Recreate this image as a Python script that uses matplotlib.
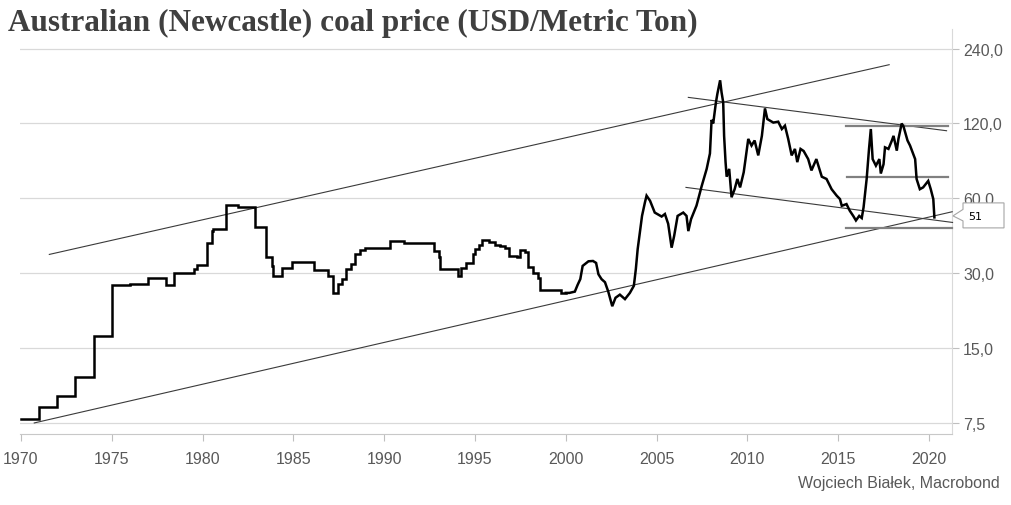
import matplotlib
matplotlib.use("Agg")
import matplotlib.pyplot as plt
import matplotlib.patches as mpatches
from matplotlib.ticker import FixedLocator, NullLocator

# ---------------- data ----------------
# early period: step levels (start year, price USD/t)
step_years = [1970.0, 1971.0, 1972.0, 1973.0, 1974.0, 1975.0, 1976.0, 1977.0, 1978.0, 1978.4,
              1979.5, 1979.7, 1980.25, 1980.5, 1980.6, 1981.27, 1981.97, 1982.9, 1983.5, 1983.85,
              1983.9, 1984.4, 1984.9, 1986.13, 1986.9, 1987.2, 1987.44, 1987.7, 1987.9, 1988.17,
              1988.4, 1988.67, 1988.94, 1990.3, 1991.1, 1992.76, 1993.0, 1993.05, 1994.08, 1994.25,
              1994.5, 1994.87, 1995.0, 1995.2, 1995.4, 1995.8, 1996.1, 1996.4, 1996.65, 1996.9,
              1997.3, 1997.5, 1997.75, 1997.9, 1998.2, 1998.45, 1998.6, 1999.75, 2000.0]
step_prices = [7.8, 8.7, 9.6, 11.5, 16.8, 26.9, 27.1, 28.7, 27.0, 30.0,
               31.2, 32.4, 39.5, 44.3, 45.2, 56.4, 55.6, 46.2, 34.7, 32.0,
               29.2, 31.6, 33.4, 31.0, 29.3, 24.9, 27.1, 28.4, 31.1, 32.8,
               35.8, 37.2, 38.0, 40.5, 39.6, 37.0, 34.7, 31.1, 29.3, 31.6,
               33.1, 35.9, 37.5, 39.1, 40.7, 40.0, 39.1, 38.5, 38.0, 35.3,
               34.7, 37.2, 36.5, 31.8, 30.0, 28.8, 25.8, 25.0, 25.0]

# later period: weekly-ish readings
wk_years = [2000.0, 2000.2, 2000.5, 2000.65, 2000.8, 2000.93, 2001.25, 2001.5, 2001.67, 2001.8,
            2001.97, 2002.16, 2002.34, 2002.56, 2002.74, 2002.98, 2003.26, 2003.53, 2003.75, 2003.86,
            2003.96, 2004.08, 2004.2, 2004.36, 2004.45, 2004.64, 2004.9, 2005.28, 2005.46, 2005.64,
            2005.83, 2005.97, 2006.16, 2006.47, 2006.65, 2006.75, 2006.9, 2007.2, 2007.48, 2007.76,
            2007.94, 2008.03, 2008.12, 2008.27, 2008.35, 2008.5, 2008.58, 2008.67, 2008.72, 2008.8,
            2008.86, 2009.0, 2009.13, 2009.3, 2009.45, 2009.6, 2009.8, 2009.9, 2010.05, 2010.23,
            2010.4, 2010.6, 2010.8, 2010.97, 2011.1, 2011.43, 2011.7, 2011.9, 2012.07, 2012.25,
            2012.44, 2012.62, 2012.75, 2012.93, 2013.1, 2013.35, 2013.53, 2013.8, 2014.1, 2014.36,
            2014.64, 2014.92, 2015.1, 2015.2, 2015.46, 2015.64, 2015.83, 2015.98, 2016.16, 2016.3,
            2016.4, 2016.57, 2016.7, 2016.8, 2016.9, 2017.08, 2017.27, 2017.35, 2017.5, 2017.58,
            2017.77, 2017.96, 2018.05, 2018.23, 2018.32, 2018.5, 2018.6, 2018.82, 2018.96, 2019.24,
            2019.32, 2019.5, 2019.68, 2019.96, 2020.1, 2020.24, 2020.3]
wk_prices = [25.0, 25.0, 25.3, 26.9, 28.4, 32.1, 33.5, 33.6, 33.0, 29.7,
             28.4, 27.6, 25.3, 22.1, 23.9, 24.6, 23.6, 25.0, 26.7, 31.2,
             37.5, 43.7, 51.0, 57.8, 61.5, 58.7, 52.6, 50.7, 51.9, 47.4,
             38.0, 42.4, 51.0, 52.6, 51.0, 44.3, 49.5, 56.1, 67.0, 78.8,
             90.9, 124.0, 120.0, 146.0, 158.0, 179.0, 160.0, 146.0, 107.0, 83.9,
             73.3, 78.8, 60.6, 65.3, 71.8, 66.4, 76.4, 86.3, 104.0, 97.8,
             102.5, 89.3, 107.0, 138.0, 125.0, 121.0, 122.0, 114.0, 117.6, 104.0,
             89.3, 94.8, 83.9, 94.8, 93.0, 86.3, 77.7, 86.3, 73.3, 71.8,
             65.3, 61.5, 59.6, 56.0, 56.9, 53.5, 51.0, 48.9, 51.0, 50.0,
             55.2, 71.8, 94.8, 114.0, 86.3, 81.2, 86.3, 75.5, 82.3, 96.2,
             94.8, 102.5, 107.0, 93.3, 104.0, 120.0, 116.7, 102.5, 97.8, 86.3,
             71.8, 65.3, 66.4, 70.5, 65.3, 59.6, 50.3]

last_value = 51

# trend lines: (year0, value0, year1, value1)
trend_lines = [
    (1971.56, 35.7, 2017.81, 206.8),
    (1970.73, 7.5, 2021.28, 53.0),
    (2006.75, 152.8, 2020.97, 112.2),
    (2006.62, 66.4, 2021.30, 48.0),
]
# horizontal support/resistance levels: (year0, year1, value)
levels = [
    (2015.43, 2021.05, 117.0),
    (2015.50, 2021.07, 73.3),
    (2015.43, 2021.25, 45.7),
]

y_ticks = [7.5, 15, 30, 60, 120, 240]
y_ticklabels = ["7,5", "15,0", "30,0", "60,0", "120,0", "240,0"]
x_ticks = [1970, 1975, 1980, 1985, 1990, 1995, 2000, 2005, 2010, 2015, 2020]

title = "Australian (Newcastle) coal price (USD/Metric Ton)"
source = "Wojciech Białek, Macrobond"

# ---------------- plot ----------------
W, H, DPI = 1012, 506, 100
fig = plt.figure(figsize=(W / DPI, H / DPI), dpi=DPI)
L, R, B, T = 20, 952, 435, 30
ax = fig.add_axes([L / W, 1 - B / H, (R - L) / W, (B - T) / H])

tick_font = ['Liberation Sans Narrow', 'Liberation Sans', 'DejaVu Sans']
gray_txt = '#595959'

ax.set_yscale('log')
ax.set_xlim(1969.945, 2021.27)
ax.set_ylim(6.77, 287.8)

ax.plot(step_years, step_prices, drawstyle='steps-post', color='black', lw=1.8,
        solid_joinstyle='miter', zorder=5)
ax.plot(wk_years, wk_prices, color='black', lw=1.8, solid_joinstyle='miter', zorder=5)

for (x0, v0, x1, v1) in trend_lines:
    ax.plot([x0, x1], [v0, v1], color='#3a3a3a', lw=0.8, zorder=4, clip_on=False)
for (x0, x1, v) in levels:
    ax.plot([x0, x1], [v, v], color='#808080', lw=1.6, zorder=4, clip_on=False)

ax.yaxis.set_major_locator(FixedLocator(y_ticks))
ax.yaxis.set_minor_locator(NullLocator())
ax.set_yticklabels(y_ticklabels)
ax.yaxis.tick_right()
ax.xaxis.set_major_locator(FixedLocator(x_ticks))
ax.set_xticklabels([str(x) for x in x_ticks])

ax.grid(axis='y', color='#d9d9d9', lw=0.9)
ax.set_axisbelow(True)
for s in ['top', 'left']:
    ax.spines[s].set_visible(False)
ax.spines['right'].set_color('#d9d9d9')
ax.spines['bottom'].set_color('#c8c8c8')
ax.tick_params(axis='y', which='both', right=True, left=False, length=5, width=0.8,
               color='#bfbfbf', pad=3, labelsize=11.5, labelcolor=gray_txt)
ax.tick_params(axis='x', length=5, width=0.8, color='#bfbfbf', pad=7,
               labelsize=11.5, labelcolor=gray_txt)
for lab in ax.get_xticklabels() + ax.get_yticklabels():
    lab.set_family(tick_font)

fig.text(8 / W, 1 - 23 / H, title, family=['Liberation Serif', 'DejaVu Serif'],
         fontweight='bold', fontsize=22.5, color='#3f3f3f', va='center', ha='left')
fig.text(1000 / W, 1 - 484 / H, source, family=tick_font, fontsize=11.5,
         color=gray_txt, ha='right', va='center')

# value callout
fig.canvas.draw()
tip = ax.transData.transform((ax.get_xlim()[1], last_value))
tx, ty = tip[0] + 1, tip[1]
offs = [(0, 0), (10, 6.5), (10, 13), (51, 13), (51, -12), (10, -12), (10, -5)]
verts = [fig.transFigure.inverted().transform((tx + dx, ty + dy)) for dx, dy in offs]
poly = mpatches.Polygon(verts, closed=True, transform=fig.transFigure,
                        facecolor='white', edgecolor='#a6a6a6', lw=0.8, zorder=10)
fig.add_artist(poly)
tpos = fig.transFigure.inverted().transform((tx + 15, ty))
fig.text(tpos[0], tpos[1], str(last_value), fontsize=8, color='black',
         family=['DejaVu Sans'], ha='left', va='center', zorder=11)

fig.savefig('out.png', dpi=DPI)
